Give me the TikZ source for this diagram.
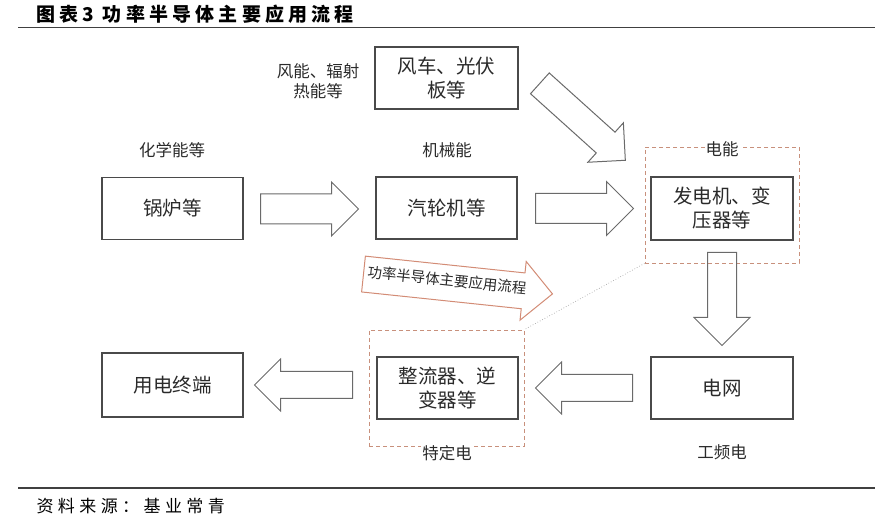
\documentclass[tikz,border=0pt]{standalone}
\usepackage{fontspec}
\setmainfont{Noto Sans CJK SC}
\newfontfamily\titlefont[LetterSpace=22]{Noto Sans CJK SC}
\newfontfamily\srcfont[LetterSpace=26]{Noto Sans CJK SC}
\usetikzlibrary{shapes.arrows}
\definecolor{boxline}{HTML}{4A4A4A}
\definecolor{arrline}{HTML}{6A6A6A}
\definecolor{frameline}{HTML}{C8907C}
\definecolor{flowline}{HTML}{D38C76}
\definecolor{txt}{HTML}{2A2A2A}

\begin{document}
\begin{tikzpicture}[x=1pt,y=-1pt,
    stagebox/.style={draw=boxline,line width=1.1pt,minimum width=141pt,minimum height=62pt,
        align=center,text=txt,font=\fontsize{19.5}{24}\selectfont},
    energy/.style={text=txt,align=center,font=\fontsize{16.5}{20}\selectfont},
    bigarrow/.style={single arrow,draw=arrline,line width=1pt,minimum height=#1,
        inner xsep=0pt,inner ysep=14.5pt,single arrow head extend=12pt,anchor=tail},
    frame/.style={draw=frameline,dash pattern=on 4pt off 3pt,line width=0.9pt,inner sep=0pt}]
\useasboundingbox (0,0) rectangle (884,526);

% title and rules
\node[anchor=west,font=\titlefont\fontsize{19}{21}\selectfont\bfseries] (title) at (33,14) {图表3 功率半导体主要应用流程};
\draw[line width=1.4pt,black!75] (18,27.5) -- (875,27.5);
\draw[line width=1.4pt,black!75] (18,488) -- (875,488);
\node[anchor=west,font=\srcfont\fontsize{17}{20}\selectfont] (source) at (33,506) {资料来源：基业常青};

% dashed frames
\node[frame,minimum width=154pt,minimum height=116pt] (genframe) at (722,205) {};
\node[frame,minimum width=155pt,minimum height=116pt] (convframe) at (446.5,388) {};
\draw[black!35,line width=0.7pt,dotted] (genframe.south west) -- (convframe.north east);

% stages
\node[stagebox] (boiler) at (172.5,208.5) {锅炉等};
\node[stagebox] (turbine) at (446.5,208) {汽轮机等};
\node[stagebox,minimum width=143pt] (windpv) at (446.5,78) {风车、光伏\\板等};
\node[stagebox,minimum width=142pt,minimum height=63pt] (generator) at (722,208.5) {发电机、变\\压器等};
\node[stagebox,minimum width=142pt] (grid) at (722,388) {电网};
\node[stagebox] (converter) at (447.5,388) {整流器、逆\\变器等};
\node[stagebox,minimum height=64pt] (enduse) at (172.5,385) {用电终端};

% energy labels
\node[energy] (chemlbl) at (172,150) {化学能等};
\node[energy] (mechlbl) at (447,150) {机械能};
\node[energy] (windlbl) at (318,81) {风能、辐射\\热能等};
\node[energy,fill=white,inner sep=1pt] (eleclbl) at (722,149) {电能};
\node[energy,fill=white,inner sep=1pt] (speclbl) at (447,453) {特定电};
\node[energy] (freqlbl) at (722,452) {工频电};

% block arrows
\node[bigarrow=98pt] (arrA) at (260,209) {};
\node[bigarrow=98pt] (arrB) at (535,208.5) {};
\node[bigarrow=115pt,inner ysep=13.5pt,single arrow head extend=12.5pt,rotate=-42] (arrC) at (539.5,83) {};
\node[bigarrow=93pt,inner ysep=14pt,single arrow head extend=13.5pt,rotate=-90] (arrD) at (722,252) {};
\node[bigarrow=97pt,inner ysep=13pt,single arrow head extend=12.5pt,rotate=180] (arrE) at (633,388) {};
\node[bigarrow=98pt,inner ysep=13pt,single arrow head extend=12.5pt,rotate=180] (arrF) at (353,385) {};

% flow arrow
\node[single arrow,draw=flowline,line width=1pt,fill=white,minimum height=190pt,inner xsep=0pt,inner ysep=17.5pt,
    single arrow head extend=11.5pt,anchor=tail,rotate=-6] (flowarrow) at (363,274) {};
\node[rotate=-6,text=txt,font=\fontsize{14.5}{16}\selectfont] (flowtext) at (447,280) {功率半导体主要应用流程};
\end{tikzpicture}
\end{document}
